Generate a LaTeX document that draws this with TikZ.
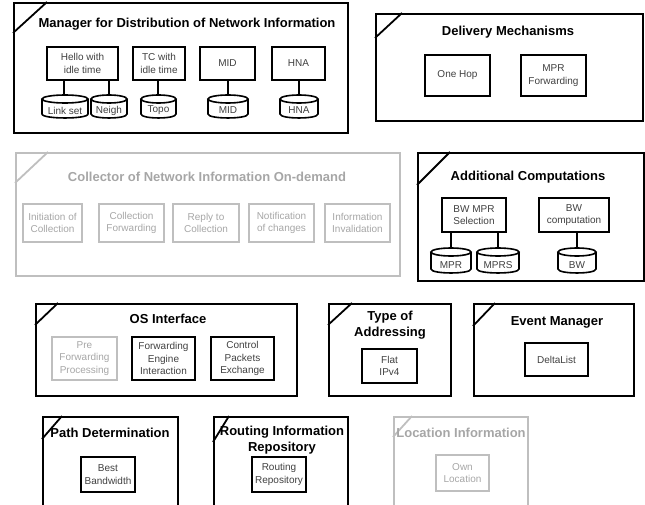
\documentclass[tikz,border=0pt]{standalone}
\usepackage{fontspec}
\setmainfont{Liberation Sans}
\begin{document}
\begin{tikzpicture}[x=1pt,y=-1pt,
  frame/.style={draw, line width=1.8pt, inner sep=0pt},
  pale/.style={draw=black!25, text=black!35},
  paletext/.style={text=black!30},
  title/.style={font=\fontsize{13}{16}\selectfont\bfseries, align=center, inner sep=0pt},
  part/.style={draw, line width=1.8pt, inner sep=0pt, align=center,
    font=\fontsize{10}{12.5}\selectfont, text=black!75},
  store/.style={inner sep=0pt},
  cylline/.style={line width=1.6pt, fill=white},
  wire/.style={line width=1.4pt}]
\useasboundingbox (0,0) rectangle (645,505);
\clip (0,0) rectangle (645,505);

% frame: name, x1, y1, x2, y2, corner dy, corner dx, extra style
\newcommand\modframe[8]{%
  \node[frame, #8, anchor=north west, minimum width={(#4-#2)*1pt}, minimum height={(#5-#3)*1pt}] (#1) at (#2,#3) {};
  \draw[line width=1.8pt, #8] ([yshift=-#6pt]#1.north west) -- ([xshift=#7pt]#1.north west);}
% part box: name, x1, y1, x2, y2, text, extra style
\newcommand\modpart[7]{%
  \node[part, #7, minimum width={(#4-#2)*1pt}, minimum height={(#5-#3)*1pt}] (#1) at ({(#2+#4)/2},{(#3+#5)/2}) {#6};}
% data store cylinder: name, x1, x2, ytop, ybot, label
\newcommand\modstore[6]{%
  \node[store, minimum width={(#3-#2)*1pt}, minimum height={(#5-#4)*1pt}] (#1) at ({(#2+#3)/2},{(#4+#5)/2}) {};
  \draw[cylline] (#2,#4+4) -- (#2,#5-4) .. controls (#2,#5+1.3) and (#3,#5+1.3) .. (#3,#5-4) -- (#3,#4+4);
  \draw[cylline] ({(#2+#3)/2},#4+4) ellipse [x radius={(#3-#2)/2*1pt}, y radius=4pt];
  \node[font=\fontsize{10}{12}\selectfont, text=black!75, inner sep=0pt] at ({(#2+#3)/2},{#5-7.5}) {#6};}

% Manager for Distribution of Network Information
\modframe{mgr}{13}{2}{347}{132}{31}{34}{}
\node[title] (mgrT) at (187,24) {Manager for Distribution of Network Information};
\modpart{hello}{47}{47}{118}{80}{Hello with\\idle time}{}
\modpart{tc}{133}{47}{185}{80}{TC with\\idle time}{}
\modpart{mid}{200}{47}{255}{80}{MID}{}
\modpart{hna}{272}{47}{325}{80}{HNA}{}
\draw[wire] (hello.south -| 64,0) -- (64,96);
\draw[wire] (hello.south -| 109,0) -- (109,96);
\draw[wire] (tc.south -| 158,0) -- (158,96);
\draw[wire] (mid.south -| 228,0) -- (228,96);
\draw[wire] (hna.south -| 299,0) -- (299,96);
\modstore{linkset}{42}{88}{95}{118}{Link set}
\modstore{neigh}{91}{127}{95}{118}{Neigh}
\modstore{topo}{141}{176}{95}{118}{Topo}
\modstore{midc}{208}{248}{95}{118}{MID}
\modstore{hnac}{280}{318}{95}{118}{HNA}

% Delivery Mechanisms
\modframe{dlv}{375}{13}{642}{120}{25}{27}{}
\node[title] (dlvT) at (508,32) {Delivery Mechanisms};
\modpart{onehop}{425}{55}{490}{96}{One Hop}{}
\modpart{mprfw}{521}{55}{586}{96}{MPR\\Forwarding}{}

% Collector of Network Information On-demand
\modframe{col}{15}{152}{399}{275}{31}{33}{draw=black!25}
\node[title, text=black!35] (colT) at (207,177) {Collector of Network Information On-demand};
\modpart{ini}{23}{204}{82}{242}{Initiation of\\Collection}{pale}
\modpart{cfw}{99}{204}{164}{242}{Collection\\Forwarding}{pale}
\modpart{rep}{173}{204}{239}{242}{Reply to\\Collection}{pale}
\modpart{noti}{249}{204}{314}{242}{Notification\\of changes}{pale}
\modpart{inv}{325}{204}{390}{242}{Information\\Invalidation}{pale}

% Additional Computations
\modframe{add}{417}{152}{643}{280}{33}{33}{}
\node[title] (addT) at (528,177) {Additional Computations};
\modpart{bwmpr}{442}{198}{506}{232}{BW MPR\\Selection}{}
\modpart{bwc}{539}{198}{609}{232}{BW\\computation}{}
\modstore{mprc}{431}{471}{248}{273}{MPR}
\modstore{mprs}{477}{519}{248}{273}{MPRS}
\modstore{bwst}{558}{596}{248}{273}{BW}
\draw[wire] (bwmpr.south -| mprc.north) -- (mprc.north);
\draw[wire] (bwmpr.south -| mprs.north) -- (mprs.north);
\draw[wire] (bwc.south -| bwst.north) -- (bwst.north);

% OS Interface
\modframe{os}{35}{303}{296}{395}{22}{23}{}
\node[title] (osT) at (168,319) {OS Interface};
\modpart{pre}{52}{337}{117}{380}{Pre\\Forwarding\\Processing}{pale}
\modpart{fe}{132}{337}{195}{380}{Forwarding\\Engine\\Interaction}{}
\modpart{cp}{211}{337}{274}{380}{Control\\Packets\\Exchange}{}

% Type of Addressing
\modframe{addr}{328}{303}{450}{395}{22}{24}{}
\node[title] (addrT) at (390,325) {Type of\\Addressing};
\modpart{flat}{362}{349}{417}{383}{Flat\\IPv4}{}

% Event Manager
\modframe{evt}{473}{303}{633}{395}{23}{22}{}
\node[title] (evtT) at (557,322) {Event Manager};
\modpart{delta}{525}{343}{588}{376}{DeltaList}{}

% Path Determination
\modframe{path}{42}{416}{177}{512}{23}{20}{}
\node[title] (pathT) at (110,433) {Path Determination};
\modpart{best}{81}{457}{135}{492}{Best\\Bandwidth}{}

% Routing Information Repository
\modframe{rir}{213}{416}{347}{512}{26}{16}{}
\node[title] (rirT) at (282,440) {Routing Information\\Repository};
\modpart{rrep}{252}{457}{306}{492}{Routing\\Repository}{}

% Location Information
\modframe{loc}{393}{416}{527}{512}{21}{19}{draw=black!25}
\node[title, text=black!35] (locT) at (461,433) {Location Information};
\modpart{own}{436}{455}{489}{491}{Own\\Location}{pale}
\end{tikzpicture}
\end{document}
